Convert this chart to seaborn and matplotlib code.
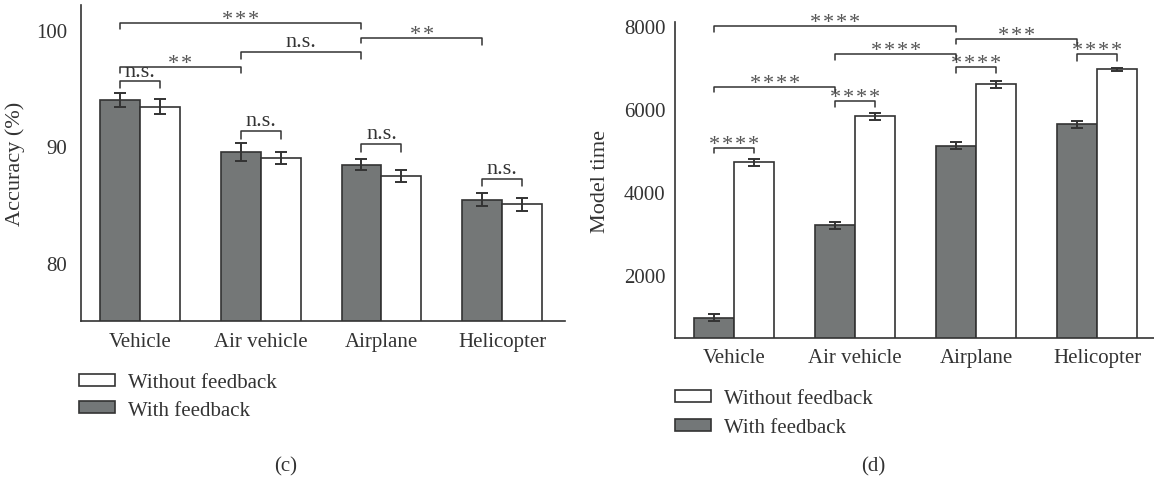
import numpy as np
import pandas as pd
import matplotlib
matplotlib.use("Agg")
import matplotlib.pyplot as plt
from matplotlib.patches import Patch
import seaborn as sns

# ---------------- data ----------------
categories = ["Vehicle", "Air vehicle", "Airplane", "Helicopter"]
groups = ["With feedback", "Without feedback"]

acc_with = [93.98, 89.52, 88.44, 85.46]
acc_with_err = [0.57, 0.80, 0.47, 0.53]
acc_without = [93.41, 88.98, 87.48, 85.06]
acc_without_err = [0.62, 0.51, 0.52, 0.54]

time_with = [961, 3201, 5119, 5638]
time_with_err = [85, 80, 85, 88]
time_without = [4715, 5831, 6604, 6967]
time_without_err = [76, 80, 85, 32]

HS = "\u200a"  # hair space between asterisks
S2, S3, S4 = HS.join("**"), HS.join("***"), HS.join("****")

# significance annotations: (label, (cat, group), (cat, group), bracket y, left leg end, right leg end)
acc_annotations = [
    ("n.s.", (0, 0), (0, 1), 95.60, 94.97, 94.97),
    (S2, (0, 0), (1, 0), 96.81, 96.30, 96.30),
    (S3, (0, 0), (2, 0), 100.54, 100.09, 100.09),
    ("n.s.", (1, 0), (2, 0), 98.09, 97.44, 97.44),
    (S2, (2, 0), (3, 0), 99.28, 98.85, 98.66),
    ("n.s.", (1, 0), (1, 1), 91.34, 90.63, 90.63),
    ("n.s.", (2, 0), (2, 1), 90.23, 89.57, 89.57),
    ("n.s.", (3, 0), (3, 1), 87.25, 86.59, 86.59),
]
time_annotations = [
    (S4, (0, 0), (0, 1), 5069, 4941, 4941),
    (S4, (0, 0), (1, 0), 6536, 6415, 6415),
    (S4, (1, 0), (1, 1), 6188, 6043, 6043),
    (S4, (1, 0), (2, 0), 7323, 7178, 7178),
    (S4, (0, 0), (2, 0), 8000, 7863, 7863),
    (S4, (2, 0), (2, 1), 7009, 6874, 6874),
    (S3, (2, 0), (3, 0), 7686, 7582, 7541),
    (S4, (3, 0), (3, 1), 7323, 7162, 7162),
]

# ---------------- style ----------------
sns.set_theme(style="white")
FONT = ["Liberation Serif", "DejaVu Serif"]
plt.rcParams["font.family"] = FONT
DARK = "#333333"
GRAY = "#737778"
FS = 15

fig = plt.figure(figsize=(11.54, 4.81), dpi=100)
W, H = 1154, 481
axL = fig.add_axes([80.7 / W, 1 - 321.7 / H, (565 - 80.7) / W, (321.7 - 6) / H])
axR = fig.add_axes([675 / W, 1 - 339.3 / H, (1160 - 675) / W, (339.3 - 23.3) / H])


def draw(ax, w, we, wo, woe, ylim, yticks, ylabel, annotations, tickdir, ticklen, labelx, xpad, ypad):
    df = pd.DataFrame({
        "category": categories * 2,
        "group": [groups[0]] * 4 + [groups[1]] * 4,
        "value": list(w) + list(wo),
    })
    sns.barplot(data=df, x="category", y="value", hue="group", order=categories,
                hue_order=groups, palette={groups[0]: GRAY, groups[1]: "white"},
                edgecolor=DARK, linewidth=1.2, width=0.66, errorbar=None,
                legend=False, ax=ax, zorder=2)
    bars = [p for p in ax.patches if p.get_width() > 0]
    centres = sorted(p.get_x() + p.get_width() / 2 for p in bars)
    pos = {}
    for i in range(len(categories)):
        pos[(i, 0)] = centres[2 * i]
        pos[(i, 1)] = centres[2 * i + 1]
    xs0 = [pos[(i, 0)] for i in range(4)]
    xs1 = [pos[(i, 1)] for i in range(4)]
    ax.errorbar(xs0, w, yerr=we, fmt="none", ecolor=DARK, elinewidth=1.4, capsize=4, capthick=1.4, zorder=3)
    ax.errorbar(xs1, wo, yerr=woe, fmt="none", ecolor=DARK, elinewidth=1.4, capsize=4, capthick=1.4, zorder=3)

    for label, a, b, y, l1, l2 in annotations:
        x1, x2 = pos[a], pos[b]
        ax.plot([x1, x1, x2, x2], [l1, y, y, l2], color=DARK, lw=1.1, zorder=4, clip_on=False)
        if label.startswith("n"):
            ax.annotate(label, xy=((x1 + x2) / 2, y), xytext=(0, 0.3), textcoords="offset points",
                        ha="center", va="bottom", fontsize=FS + 1, color=DARK, annotation_clip=False)
        else:
            ax.annotate(label, xy=((x1 + x2) / 2, y), xytext=(0, -0.5), textcoords="offset points",
                        ha="center", va="baseline", fontsize=16, color="#555555", annotation_clip=False)

    ax.set_ylim(*ylim)
    ax.set_xlim(-0.49, 3.52)
    ax.set_yticks(yticks)
    ax.set_yticklabels([str(t) for t in yticks], fontsize=FS, color=DARK)
    ax.set_xticks(range(4))
    ax.set_xticklabels(categories, fontsize=FS, color=DARK)
    ax.set_xlabel("")
    ax.set_ylabel(ylabel, fontsize=FS + 1, color=DARK)
    ax.yaxis.set_label_coords(labelx, 0.5)
    ax.tick_params(axis="x", length=0, pad=xpad)
    ax.tick_params(axis="y", direction=tickdir, length=ticklen, width=1.0, color=DARK, pad=ypad)
    for s in ["top", "right"]:
        ax.spines[s].set_visible(False)
    for s in ["left", "bottom"]:
        ax.spines[s].set_color(DARK)
        ax.spines[s].set_linewidth(1.2)
    ax.set_facecolor("none")


draw(axL, acc_with, acc_with_err, acc_without, acc_without_err, (75.1, 102.1), [80, 90, 100],
     "Accuracy (%)", acc_annotations, "out", 4, -0.115, 8, 6)
draw(axR, time_with, time_with_err, time_without, time_without_err, (470, 8100), [2000, 4000, 6000, 8000],
     "Model time", time_annotations, "in", 6, -0.134, 7, 7)

handles = [Patch(facecolor="white", edgecolor=DARK, linewidth=1.2, label="Without feedback"),
           Patch(facecolor=GRAY, edgecolor=DARK, linewidth=1.2, label="With feedback")]
for x, ytop, sp in [(79 / W, 1 - 374 / H, 0.42), (675 / W, 1 - 390 / H, 0.5)]:
    fig.legend(handles=handles, loc="upper left", bbox_to_anchor=(x, ytop), frameon=False,
               fontsize=FS, handlelength=1.75, handleheight=0.5, handletextpad=0.6,
               labelspacing=sp, borderpad=0, borderaxespad=0, labelcolor=DARK)

fig.text(286 / W, 1 - 467 / H, "(c)", ha="center", va="center", fontsize=FS, color=DARK)
fig.text(873 / W, 1 - 467 / H, "(d)", ha="center", va="center", fontsize=FS, color=DARK)

fig.savefig("out.png", dpi=100)
